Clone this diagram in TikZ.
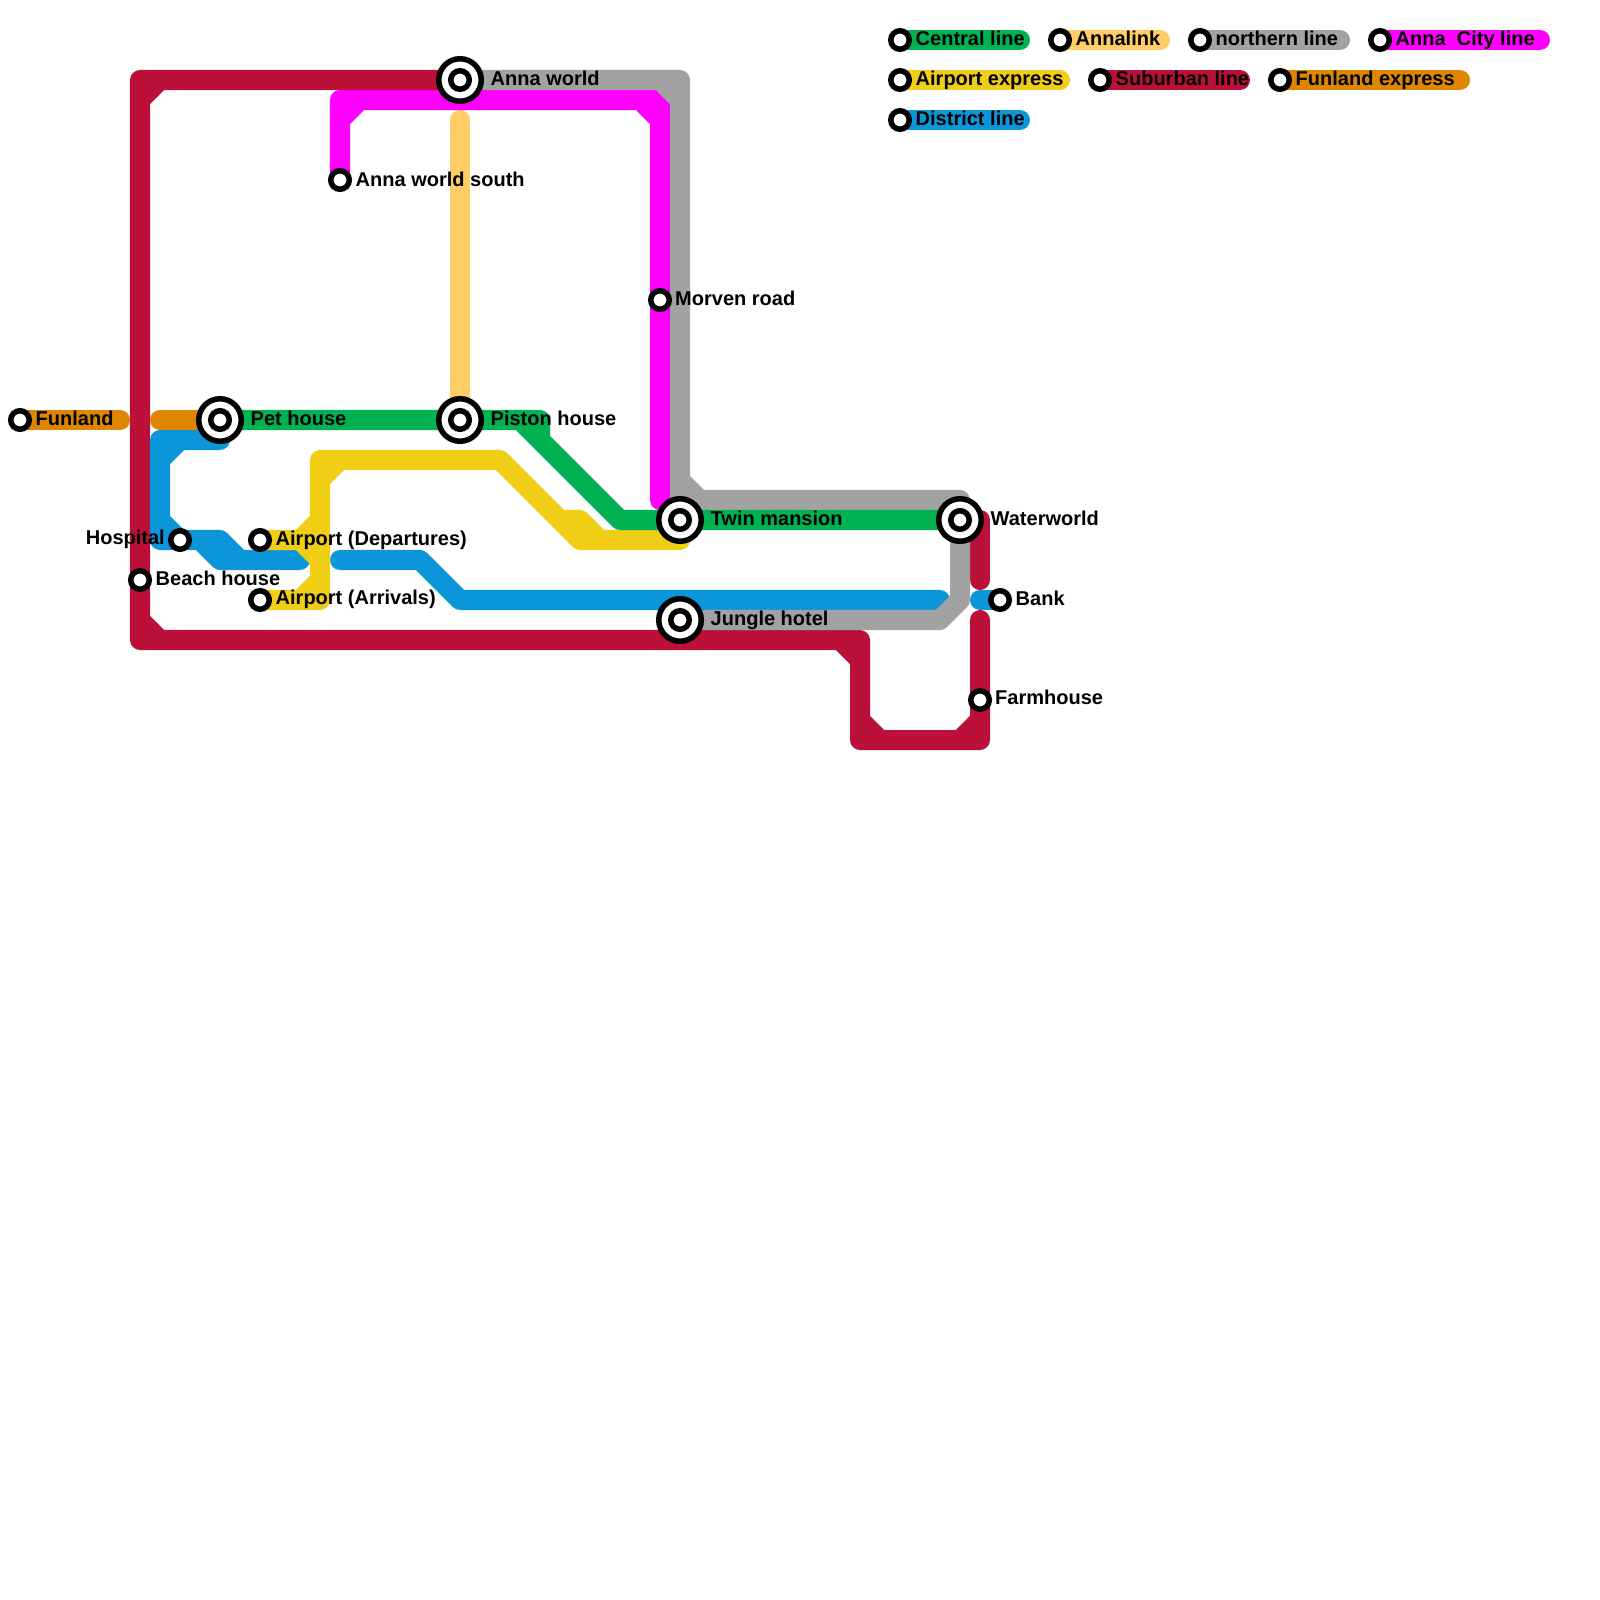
\documentclass[tikz,border=0pt]{standalone}
\usepackage{fontspec}
\setmainfont{Liberation Sans}
\usepackage{xcolor}
\usetikzlibrary{backgrounds}
\definecolor{central}{HTML}{00B251}
\definecolor{annalink}{HTML}{FFCC66}
\definecolor{northern}{HTML}{A2A2A2}
\definecolor{cityline}{HTML}{FF00FF}
\definecolor{airport}{HTML}{F0CE15}
\definecolor{suburban}{HTML}{BB1139}
\definecolor{funland}{HTML}{DF8600}
\definecolor{district}{HTML}{0A96D8}

\begin{document}
\begin{tikzpicture}[
      x=0.01cm,y=-0.01cm,
      stop/.style={circle,draw=black,fill=white,line width=0.055cm,
                   minimum size=0.185cm,inner sep=0pt},
      hub/.style={stop,minimum size=0.425cm},
      lbl/.style={anchor=base west,inner sep=0pt,
                  font=\fontsize{5.69pt}{7pt}\selectfont\bfseries},
      lblleft/.style={lbl,anchor=base east},
      track/.style={line width=0.2cm,line cap=round,line join=round},
      ctrack/.style={track,central},
      atrack/.style={track,annalink},
      ntrack/.style={track,northern},
      mtrack/.style={track,cityline},
      ytrack/.style={track,airport},
      strack/.style={track,suburban},
      ftrack/.style={track,funland},
      dtrack/.style={track,district}
    ]
    \useasboundingbox (0,0) rectangle (1600,1600);

    % interchanges
    \node[hub]  (annaworld)      at (460,80)  {};
    \node[stop] (annaworldcore)  at (460,80)  {};
    \node[hub]  (pethouse)       at (220,420) {};
    \node[stop] (pethousecore)   at (220,420) {};
    \node[hub]  (piston)         at (460,420) {};
    \node[stop] (pistoncore)     at (460,420) {};
    \node[hub]  (twin)           at (680,520) {};
    \node[stop] (twincore)       at (680,520) {};
    \node[hub]  (jungle)         at (680,620) {};
    \node[stop] (junglecore)     at (680,620) {};
    \node[hub]  (waterworld)     at (960,520) {};
    \node[stop] (waterworldcore) at (960,520) {};

    % plain stations
    \node[stop] (funlandst)  at (20,420)  {};
    \node[stop] (hospital)   at (180,540) {};
    \node[stop] (beach)      at (140,580) {};
    \node[stop] (departures) at (260,540) {};
    \node[stop] (arrivals)   at (260,600) {};
    \node[stop] (annasouth)  at (340,180) {};
    \node[stop] (morven)     at (660,300) {};
    \node[stop] (bank)       at (1000,600) {};
    \node[stop] (farmhouse)  at (980,700) {};

    % station names
    \node[lbl] (funlandlbl)    at (35,425)   {Funland};
    \node[lbl] (petlbl)        at (250,425)  {Pet house};
    \node[lbl] (pistonlbl)     at (490,425)  {Piston house};
    \node[lbl] (annaworldlbl)  at (490,86)   {Anna world};
    \node[lbl] (annasouthlbl)  at (355,186)  {Anna world south};
    \node[lbl] (morvenlbl)     at (674.5,305) {Morven road};
    \node[lbl] (twinlbl)       at (710,525)  {Twin mansion};
    \node[lbl] (junglelbl)     at (710,625)  {Jungle hotel};
    \node[lbl] (waterworldlbl) at (990,525)  {Waterworld};
    \node[lbl] (banklbl)       at (1015,605) {Bank};
    \node[lbl] (farmhouselbl)  at (994.5,704.5) {Farmhouse};
    \node[lblleft] (hospitallbl) at (165.5,544) {Hospital};
    \node[lbl] (beachlbl)      at (155,585)  {Beach house};
    \node[lbl] (departureslbl) at (275,545)  {Airport (Departures)};
    \node[lbl] (arrivalslbl)   at (275,604)  {Airport (Arrivals)};

    % legend
    \node[stop] (keycentral)  at (900,40)  {};
    \node[stop] (keyanna)     at (1060,40) {};
    \node[stop] (keynorth)    at (1200,40) {};
    \node[stop] (keycity)     at (1380,40) {};
    \node[stop] (keyairport)  at (900,80)  {};
    \node[stop] (keysuburb)   at (1100,80) {};
    \node[stop] (keyfunland)  at (1280,80) {};
    \node[stop] (keydistrict) at (900,120) {};
    \node[lbl] (keycentrallbl)  at (915,46)  {Central line};
    \node[lbl] (keyannalbl)     at (1075,46) {Annalink};
    \node[lbl] (keynorthlbl)    at (1215,46) {northern line};
    \node[lbl] (keycitylbl)     at (1395,46) {Anna\ \ City line};
    \node[lbl] (keyairportlbl)  at (915,86)  {Airport express};
    \node[lbl] (keysuburblbl)   at (1115,86) {Suburban line};
    \node[lbl] (keyfunlandlbl)  at (1295,86) {Funland express};
    \node[lbl] (keydistrictlbl) at (915,126) {District line};
    \coordinate (keycentralend)  at (1020,40);
    \coordinate (keyannaend)     at (1160,40);
    \coordinate (keynorthend)    at (1340,40);
    \coordinate (keycityend)     at (1540,40);
    \coordinate (keyairportend)  at (1060,80);
    \coordinate (keysuburbend)   at (1240,80);
    \coordinate (keyfunlandend)  at (1460,80);
    \coordinate (keydistrictend) at (1020,120);

    % line ends
    \coordinate (funlandend) at (120,420);
    \coordinate (funlandeast) at (160,420);
    \coordinate (annalinktop) at (460,120);
    \coordinate (bankend) at (980,600);

    \begin{scope}[on background layer]
    % annalink
    \draw[atrack] (annalinktop) -- (piston.center);
    \draw[atrack] (keyanna.center) -- (keyannaend);

    % anna city line
    \draw[mtrack] (annasouth.center) -- (340,100) -- (660,100) -- (660,500)
                  (340,120) -- (360,100) (640,100) -- (660,120);
    \draw[mtrack] (keycity.center) -- (keycityend);

    % suburban line
    \draw[strack] (annaworld.center) -- (140,80) -- (140,640) -- (860,640)
                  -- (860,740) -- (980,740) -- (980,620)
                  (140,100) -- (160,80) (140,620) -- (160,640)
                  (840,640) -- (860,660) (860,720) -- (880,740)
                  (960,740) -- (980,720);
    \draw[strack] (waterworld.center) -- (980,520) -- (980,580);
    \draw[strack] (keysuburb.center) -- (keysuburbend);

    % district line
    \draw[dtrack] (220,440) -- (160,440) -- (160,540) -- (220,540) -- (240,560)
                  (160,460) -- (180,440) (160,520) -- (180,540)
                  (200,540) -- (220,560) -- (300,560);
    \draw[dtrack] (340,560) -- (420,560) -- (460,600) -- (940,600);
    \draw[dtrack] (bankend) -- (bank.center);
    \draw[dtrack] (keydistrict.center) -- (keydistrictend);

    % northern line
    \draw[ntrack] (annaworld.center) -- (680,80) -- (680,500) -- (960,500)
                  -- (960,600) -- (940,620) -- (jungle.center)
                  (660,80) -- (680,100) (680,480) -- (700,500);
    \draw[ntrack] (keynorth.center) -- (keynorthend);

    % airport express
    \draw[ytrack] (arrivals.center) -- (320,600) -- (320,460) -- (500,460)
                  -- (580,540) -- (680,540)
                  (300,600) -- (320,580) (320,480) -- (340,460)
                  (560,520) -- (580,520) -- (600,540);
    \draw[ytrack] (departures.center) -- (300,540) -- (320,520)
                  (300,540) -- (320,560);
    \draw[ytrack] (keyairport.center) -- (keyairportend);

    % central line
    \draw[ctrack] (pethouse.center) -- (520,420) -- (620,520) -- (waterworld.center)
                  (520,420) -- (540,420) -- (540,440);
    \draw[ctrack] (keycentral.center) -- (keycentralend);

    % funland express
    \draw[ftrack] (funlandst.center) -- (funlandend);
    \draw[ftrack] (funlandeast) -- (pethouse.center);
    \draw[ftrack] (keyfunland.center) -- (keyfunlandend);
    \end{scope}

  \end{tikzpicture}
\end{document}
